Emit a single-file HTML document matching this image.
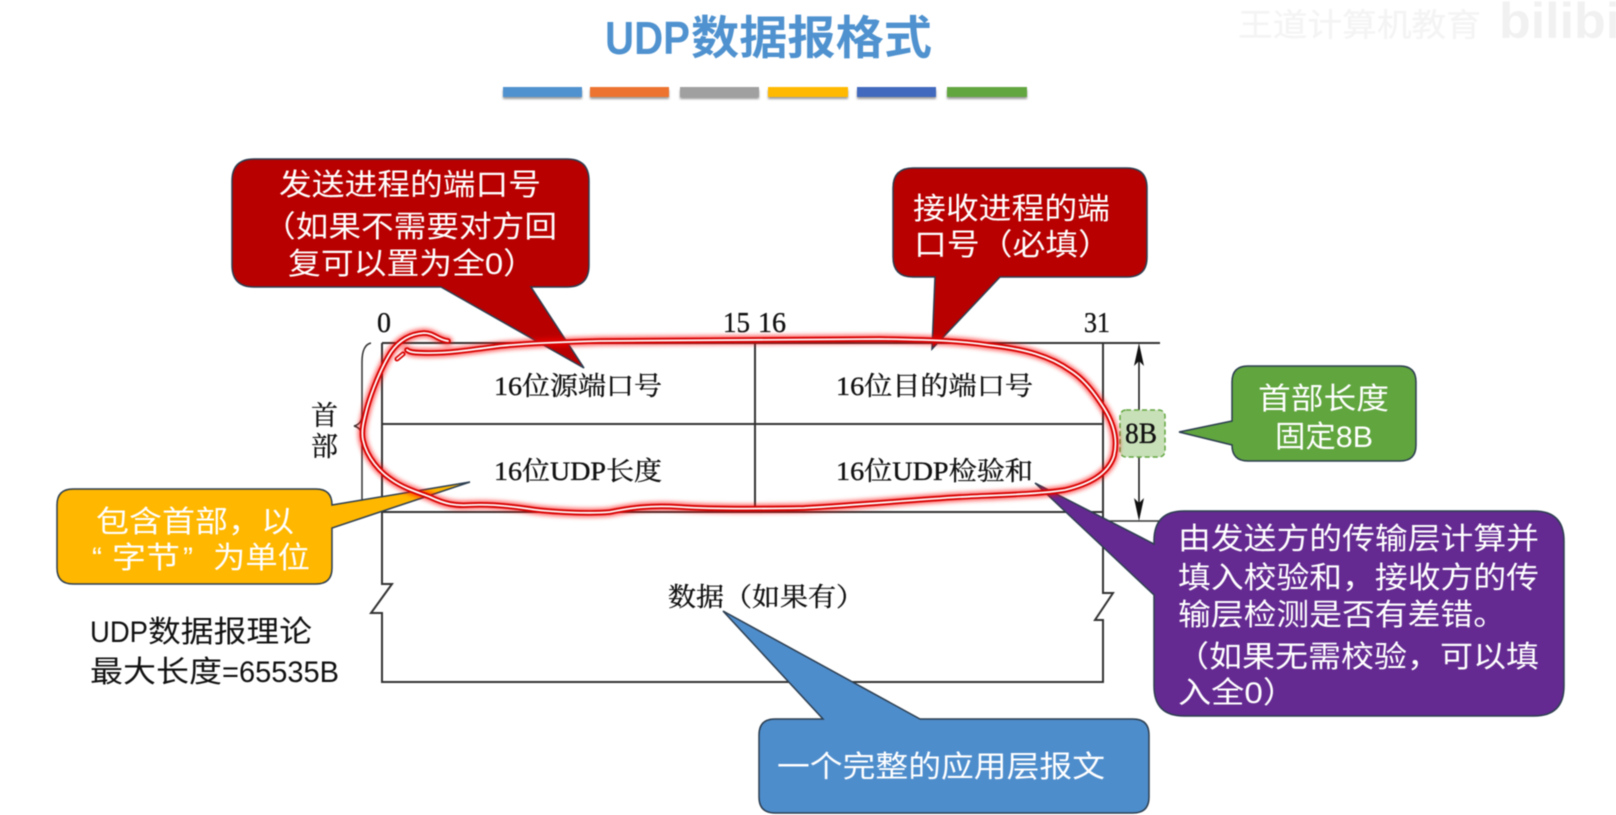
<!DOCTYPE html>
<html><head><meta charset="utf-8"><style>
html,body{margin:0;padding:0;background:#fff;width:1616px;height:815px;overflow:hidden}
svg{display:block;filter:blur(.4px)}
.s{font-family:"Liberation Sans","Noto Sans CJK SC",sans-serif}
.r{font-family:"Liberation Serif","Noto Serif CJK SC",serif;fill:#111;stroke:#111;stroke-width:.35px}
.w{fill:#fff;font-size:30px}
</style></head><body>
<svg width="1616" height="815" viewBox="0 0 1616 815" xmlns="http://www.w3.org/2000/svg">
<defs>
<filter id="g" x="-10%" y="-10%" width="120%" height="120%"><feGaussianBlur stdDeviation="2.2"/></filter>
<filter id="b" x="-10%" y="-50%" width="120%" height="200%"><feGaussianBlur stdDeviation="1"/></filter>
<path id="l" d="M448 341 C438 340 434 333 424 333 C408 334 398 342 391 352 C382 366 372 390 367 408 C364 420 361 430 363 440 C367 458 380 472 392 480 C405 489 420 493 430 497 C445 504 455 506 470 505 C490 504 510 506 530 509 C550 512 590 514 610 512 C630 508 650 505 680 507 C710 509 750 509 804 508 C860 505 910 500 960 497 C1000 495 1040 494 1065 490 C1090 484 1108 474 1114 456 C1118 440 1114 424 1104 408 C1095 394 1085 380 1071 371 C1050 356 1025 349 988 345 C960 341 940 340 880 339 C780 339 680 340 600 341 C560 342 530 343 500 346 C470 350 450 353 430 353 C420 353 410 353 407 350"/>
</defs>
<rect width="1616" height="815" fill="#fff"/>

<!-- watermark -->
<text class="s" x="1238" y="36" font-size="32" fill="#f4f4f4" stroke="#f6f6f6" stroke-width=".5" textLength="243" lengthAdjust="spacingAndGlyphs">王道计算机教育</text>
<text class="s" x="1499" y="38" font-size="50" font-weight="bold" fill="#f1f1f1" textLength="150" lengthAdjust="spacingAndGlyphs">bilibili</text>

<!-- title -->
<text class="s" x="605" y="54" font-size="46" font-weight="bold" fill="#4f92cf" textLength="85" lengthAdjust="spacingAndGlyphs">UDP</text>
<text class="s" x="691" y="54" font-size="46" font-weight="bold" fill="#4f92cf" textLength="241" lengthAdjust="spacingAndGlyphs">数据报格式</text>

<!-- bars -->
<g fill="#999" filter="url(#b)">
<rect x="503" y="90" width="79" height="9"/><rect x="590" y="90" width="79" height="9"/><rect x="680" y="90" width="79" height="9"/>
<rect x="768" y="90" width="80" height="9"/><rect x="857" y="90" width="79" height="9"/><rect x="947" y="90" width="80" height="9"/>
</g>
<rect x="503" y="87" width="79" height="10" fill="#4f92cf"/>
<rect x="590" y="87" width="79" height="10" fill="#ec7330"/>
<rect x="680" y="87" width="79" height="10" fill="#a0a0a0"/>
<rect x="768" y="87" width="80" height="10" fill="#ffb900"/>
<rect x="857" y="87" width="79" height="10" fill="#4169bd"/>
<rect x="947" y="87" width="80" height="10" fill="#62a640"/>

<!-- table -->
<g fill="none" stroke="#333" stroke-width="2">
<path d="M382 343 H1160"/>
<path d="M382 424 H1103"/>
<path d="M382 512 H1103"/>
<path d="M1103 521 H1160" stroke-width="1.6"/>
<path d="M755 343 V512"/>
<path d="M382 343 V584 H392 L371 613 H382 V682 H1103 V620 H1095 L1113 593 H1103 V343"/>
<path d="M1139 350 V515" stroke-width="1.5" stroke="#111"/>
<path d="M371 343 Q362 345 362 362 V415 Q362 424 354 426 Q362 428 362 437 V500 Q362 510 372 511" stroke-width="1.5"/>
</g>
<path d="M1139 343 L1144 366 L1139 361 L1134 366Z M1139 521 L1144 498 L1139 503 L1134 498Z" fill="#111"/>

<g class="r" font-size="29">
<text x="377" y="332" textLength="14" lengthAdjust="spacingAndGlyphs">0</text>
<text x="723" y="332" textLength="27" lengthAdjust="spacingAndGlyphs">15</text>
<text x="758" y="332" textLength="28" lengthAdjust="spacingAndGlyphs">16</text>
<text x="1084" y="332" textLength="26" lengthAdjust="spacingAndGlyphs">31</text>
</g>
<g class="r" font-size="26">
<text x="494" y="395" textLength="168" lengthAdjust="spacingAndGlyphs">16位源端口号</text>
<text x="836" y="395" textLength="197" lengthAdjust="spacingAndGlyphs">16位目的端口号</text>
<text x="494" y="480" textLength="168" lengthAdjust="spacingAndGlyphs">16位UDP长度</text>
<text x="836" y="480" textLength="197" lengthAdjust="spacingAndGlyphs">16位UDP检验和</text>
<text x="311" y="425" font-size="27" textLength="27" lengthAdjust="spacingAndGlyphs">首</text>
<text x="311" y="456" font-size="27" textLength="27" lengthAdjust="spacingAndGlyphs">部</text>
<text x="668" y="606" textLength="196" lengthAdjust="spacingAndGlyphs">数据（如果有）</text>
</g>

<!-- 8B -->
<rect x="1120" y="410" width="45" height="47" rx="6" fill="#c8e0b8" stroke="#62a640" stroke-width="1.5" stroke-dasharray="5 3"/>
<text class="r" x="1125" y="443" font-size="30" fill="#333" textLength="32" lengthAdjust="spacingAndGlyphs">8B</text>

<!-- callouts -->
<g stroke="#2c3e50" stroke-width="1.5">
<path d="M254 159 H567 Q589 159 589 181 V265 Q589 287 567 287 H531 L584 368 L441 287 H254 Q232 287 232 265 V181 Q232 159 254 159Z" fill="#b80000"/>
<path d="M913 168 H1127 Q1147 168 1147 188 V257 Q1147 277 1127 277 H1000 L932 349 L935 277 H913 Q893 277 893 257 V188 Q893 168 913 168Z" fill="#b80000"/>
<path d="M1248 366 H1400 Q1416 366 1416 382 V445 Q1416 461 1400 461 H1248 Q1232 461 1232 445 L1179 432 L1232 421 V382 Q1232 366 1248 366Z" fill="#60a53e"/>
<path d="M73 489 H316 Q332 489 332 505 L470 482 L332 528 V568 Q332 584 316 584 H73 Q57 584 57 568 V505 Q57 489 73 489Z" fill="#ffb700"/>
<path d="M1184 511 H1534 Q1564 511 1564 541 V686 Q1564 716 1534 716 H1184 Q1154 716 1154 686 V595 L1035 483 L1154 544 V541 Q1154 511 1184 511Z" fill="#642a91"/>
<path d="M775 719 H823 L723 611 L920 719 H1133 Q1149 719 1149 735 V797 Q1149 813 1133 813 H775 Q759 813 759 797 V735 Q759 719 775 719Z" fill="#4e8dcc"/>
</g>

<!-- callout text -->
<g class="s w">
<text x="279" y="195" textLength="262" lengthAdjust="spacingAndGlyphs">发送进程的端口号</text>
<text x="263" y="237" textLength="294" lengthAdjust="spacingAndGlyphs">（如果不需要对方回</text>
<text x="288" y="274" textLength="248" lengthAdjust="spacingAndGlyphs">复可以置为全0）</text>
<text x="913" y="219" textLength="197" lengthAdjust="spacingAndGlyphs">接收进程的端</text>
<text x="914" y="255" textLength="197" lengthAdjust="spacingAndGlyphs">口号（必填）</text>
<text x="1258" y="409" textLength="131" lengthAdjust="spacingAndGlyphs">首部长度</text>
<text x="1275" y="447" textLength="98" lengthAdjust="spacingAndGlyphs">固定8B</text>
<text x="96" y="532" textLength="198" lengthAdjust="spacingAndGlyphs">包含首部，以</text>
<text x="92" y="568" font-size="30">“</text>
<text x="112" y="568" textLength="68" lengthAdjust="spacingAndGlyphs">字节</text>
<text x="183" y="568" font-size="30">”</text>
<text x="213" y="568" textLength="97" lengthAdjust="spacingAndGlyphs">为单位</text>
<text x="777" y="777" textLength="328" lengthAdjust="spacingAndGlyphs">一个完整的应用层报文</text>
<text x="1178" y="549" textLength="361" lengthAdjust="spacingAndGlyphs">由发送方的传输层计算并</text>
<text x="1178" y="588" textLength="361" lengthAdjust="spacingAndGlyphs">填入校验和，接收方的传</text>
<text x="1178" y="625" textLength="328" lengthAdjust="spacingAndGlyphs">输层检测是否有差错。</text>
<text x="1176" y="667" textLength="363" lengthAdjust="spacingAndGlyphs">（如果无需校验，可以填</text>
<text x="1178" y="703" textLength="118" lengthAdjust="spacingAndGlyphs">入全0）</text>
</g>

<!-- note -->
<g class="s" font-size="30" fill="#111">
<text x="90" y="642" textLength="58" lengthAdjust="spacingAndGlyphs">UDP</text>
<text x="148" y="642" textLength="164" lengthAdjust="spacingAndGlyphs">数据报理论</text>
<text x="90" y="682" textLength="132" lengthAdjust="spacingAndGlyphs">最大长度</text>
<text x="222" y="682" textLength="117" lengthAdjust="spacingAndGlyphs">=65535B</text>
</g>

<!-- red loop -->
<g fill="none" stroke-linecap="round" stroke-linejoin="round">
<use href="#l" stroke="#ff0000" stroke-width="9" opacity=".6" filter="url(#g)"/>
<use href="#l" stroke="#d80000" stroke-width="5.5"/>
<use href="#l" stroke="#fff" stroke-width="1.8"/>
<path d="M397 359 L403 354" stroke="#d80000" stroke-width="5"/>
<path d="M397 359 L403 354" stroke="#fff" stroke-width="1.5"/>
</g>
</svg>
</body></html>
